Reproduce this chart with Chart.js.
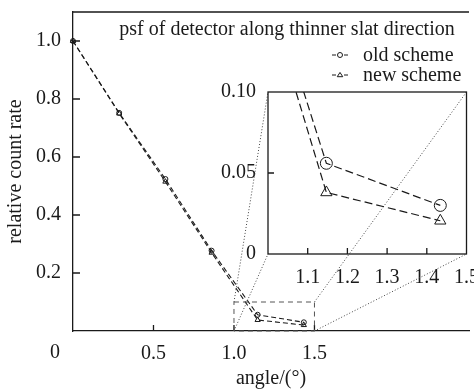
<!DOCTYPE html>
<html>
<head>
<meta charset="utf-8">
<script src="https://cdn.jsdelivr.net/npm/chart.js@4.4.1/dist/chart.umd.min.js"></script>
<style>
  html, body { margin: 0; padding: 0; background: #fff; }
  #wrap { position: relative; width: 474px; height: 391px; }
  #wrap canvas { position: absolute; left: 0; top: 0; }
</style>
</head>
<body>
<div id="wrap">
  <canvas id="mainChart" width="474" height="391"></canvas>
  <canvas id="insetChart" width="474" height="391"></canvas>
</div>
<script>
// data
const angles = [0, 0.287, 0.574, 0.861, 1.147, 1.434];
const oldScheme = [1.0, 0.752, 0.524, 0.277, 0.056, 0.030];
const newScheme = [1.0, 0.750, 0.515, 0.270, 0.038, 0.0205];

const xTicksMain = [0, 0.5, 1.0, 1.5];
const yTicksMain = [0.2, 0.4, 0.6, 0.8, 1.0];
const xTicksInset = [1.1, 1.2, 1.3, 1.4, 1.5];
const yTicksInset = [0, 0.05, 0.10];

// zoomed region shown in the inset
const zoomX = [1.0, 1.5];
const zoomY = [0, 0.1];

const titleText = 'psf of detector along thinner slat direction';
const legendLabels = ['old scheme', 'new scheme'];

const INK = '#1a1a1a';
const SERIF = "'Liberation Serif', 'DejaVu Serif', serif";
Chart.defaults.font.family = SERIF;
Chart.defaults.font.size = 20;
Chart.defaults.color = INK;

function toPoints(ys) {
    return angles.map((a, i) => ({ x: a, y: ys[i] }));
}

function drawMarker(ctx, style, x, y, r) {
    ctx.beginPath();
    if (style === 'circle') {
        ctx.arc(x, y, r, 0, Math.PI * 2);
    } else {
        const h = r * 1.7;
        ctx.moveTo(x, y - h * 0.6);
        ctx.lineTo(x + r * 1.1, y + h * 0.4);
        ctx.lineTo(x - r * 1.1, y + h * 0.4);
        ctx.closePath();
    }
    ctx.stroke();
}

function seriesSets(dash, rCircle, rTri, width) {
    return [{
        label: legendLabels[0],
        data: toPoints(oldScheme),
        showLine: true,
        borderColor: INK,
        borderWidth: width,
        borderDash: dash,
        pointStyle: 'circle',
        pointRadius: rCircle,
        pointBorderWidth: 1,
        pointBorderColor: INK,
        pointBackgroundColor: 'rgba(0,0,0,0)'
    }, {
        label: legendLabels[1],
        data: toPoints(newScheme),
        showLine: true,
        borderColor: INK,
        borderWidth: width,
        borderDash: dash,
        pointStyle: 'triangle',
        pointRadius: rTri,
        pointBorderWidth: 1,
        pointBorderColor: INK,
        pointBackgroundColor: 'rgba(0,0,0,0)'
    }];
}

// inward tick marks, top border, zoom box, title, legend
const mainDecor = {
    id: 'mainDecor',
    afterDraw(chart) {
        const ctx = chart.ctx;
        const area = chart.chartArea;
        const xs = chart.scales.x, ys = chart.scales.y;
        ctx.save();
        ctx.strokeStyle = INK;
        ctx.lineWidth = 1.3;
        ctx.beginPath();
        ctx.moveTo(area.left, area.top);
        ctx.lineTo(area.right, area.top);
        yTicksMain.forEach(v => {
            const py = ys.getPixelForValue(v);
            ctx.moveTo(area.left, py);
            ctx.lineTo(area.left + 7, py);
        });
        xTicksMain.slice(1).forEach(v => {
            const px = xs.getPixelForValue(v);
            ctx.moveTo(px, area.bottom);
            ctx.lineTo(px, area.bottom - 6);
        });
        ctx.stroke();

        // zoom box
        ctx.strokeStyle = '#555';
        ctx.lineWidth = 1;
        ctx.setLineDash([5, 4]);
        const bx0 = xs.getPixelForValue(zoomX[0]), bx1 = xs.getPixelForValue(zoomX[1]);
        const by0 = ys.getPixelForValue(zoomY[0]), by1 = ys.getPixelForValue(zoomY[1]);
        ctx.strokeRect(bx0, by1, bx1 - bx0, by0 - by1);
        ctx.setLineDash([]);

        // origin label sits left of the axis
        ctx.fillStyle = INK;
        ctx.font = '20px ' + SERIF;
        ctx.textAlign = 'center';
        ctx.textBaseline = 'alphabetic';
        ctx.fillText('0', xs.getPixelForValue(0) - 18, area.bottom + 27);

        // title inside the plot
        ctx.fillText(titleText, 287, 35);

        // legend
        ctx.textAlign = 'left';
        const rows = [{ y: 55, style: 'circle' }, { y: 75, style: 'triangle' }];
        rows.forEach((row, i) => {
            ctx.strokeStyle = INK;
            ctx.lineWidth = 1;
            ctx.beginPath();
            ctx.moveTo(332, row.y); ctx.lineTo(336, row.y);
            ctx.moveTo(344, row.y); ctx.lineTo(348, row.y);
            ctx.stroke();
            drawMarker(ctx, row.style, 340, row.y, 2.5);
            ctx.fillText(legendLabels[i], 363, row.y + 6);
        });
        ctx.restore();
    }
};

const mainChart = new Chart(document.getElementById('mainChart'), {
    type: 'scatter',
    data: { datasets: seriesSets([5, 3], 2.5, 3, 1.1) },
    options: {
        responsive: false,
        animation: false,
        clip: false,
        layout: { padding: { top: 12, left: 0, right: 0, bottom: 0 } },
        plugins: { legend: { display: false }, tooltip: { enabled: false } },
        scales: {
            x: {
                type: 'linear',
                min: 0,
                max: 2.46,
                grid: { display: false },
                border: { display: true, color: INK, width: 1.3 },
                afterBuildTicks: s => { s.ticks = xTicksMain.map(v => ({ value: v })); },
                afterFit: s => { s.height = 60; s.paddingLeft = 0; s.paddingRight = 0; },
                ticks: {
                    padding: 3,
                    maxRotation: 0,
                    callback: v => (v === 0 ? '' : v.toFixed(1))
                },
                title: { display: true, text: 'angle/(°)', padding: { top: 0, bottom: 0 } }
            },
            y: {
                type: 'linear',
                min: 0,
                max: 1.1,
                grid: { display: false },
                border: { display: true, color: INK, width: 1.3 },
                afterBuildTicks: s => { s.ticks = yTicksMain.map(v => ({ value: v })); },
                afterFit: s => { s.width = 73; s.paddingTop = 0; s.paddingBottom = 0; },
                ticks: { padding: 4, callback: v => v.toFixed(1) },
                title: { display: true, text: 'relative count rate', padding: { top: 4, bottom: 0 } }
            }
        }
    },
    plugins: [mainDecor]
});

// dotted connectors and the inset frame
const insetDecor = {
    id: 'insetDecor',
    beforeDatasetsDraw(chart) {
        const ctx = chart.ctx;
        const a = chart.chartArea;
        const xs = mainChart.scales.x, ys = mainChart.scales.y;
        const bx0 = xs.getPixelForValue(zoomX[0]), bx1 = xs.getPixelForValue(zoomX[1]);
        const by0 = ys.getPixelForValue(zoomY[0]), by1 = ys.getPixelForValue(zoomY[1]);
        ctx.save();
        ctx.strokeStyle = '#444';
        ctx.lineWidth = 1;
        ctx.setLineDash([1, 2]);
        ctx.beginPath();
        ctx.moveTo(bx0, by1); ctx.lineTo(a.left, a.top);
        ctx.moveTo(bx1, by1); ctx.lineTo(a.right, a.top);
        ctx.moveTo(bx0, by0); ctx.lineTo(a.left, a.bottom);
        ctx.moveTo(bx1, by0); ctx.lineTo(a.right, a.bottom);
        ctx.stroke();
        ctx.restore();
    },
    afterDraw(chart) {
        const ctx = chart.ctx;
        const a = chart.chartArea;
        const xs = chart.scales.x, ys = chart.scales.y;
        ctx.save();
        ctx.strokeStyle = INK;
        ctx.lineWidth = 1.3;
        ctx.strokeRect(a.left, a.top, a.right - a.left, a.bottom - a.top);
        ctx.beginPath();
        xTicksInset.slice(0, -1).forEach(v => {
            const px = xs.getPixelForValue(v);
            ctx.moveTo(px, a.bottom);
            ctx.lineTo(px, a.bottom - 6);
        });
        yTicksInset.slice(1, -1).forEach(v => {
            const py = ys.getPixelForValue(v);
            ctx.moveTo(a.left, py);
            ctx.lineTo(a.left + 6, py);
        });
        ctx.stroke();
        ctx.restore();
    }
};

const insetChart = new Chart(document.getElementById('insetChart'), {
    type: 'scatter',
    data: { datasets: seriesSets([8, 4], 6, 6.5, 1.2) },
    options: {
        responsive: false,
        animation: false,
        layout: { padding: { top: 92, left: 198, right: 6, bottom: 97 } },
        plugins: { legend: { display: false }, tooltip: { enabled: false } },
        scales: {
            x: {
                type: 'linear',
                min: zoomX[0],
                max: zoomX[1],
                grid: { display: false },
                border: { display: false },
                afterBuildTicks: s => { s.ticks = xTicksInset.map(v => ({ value: v })); },
                afterFit: s => { s.height = 40; s.paddingLeft = 0; s.paddingRight = 0; },
                ticks: { padding: 4, maxRotation: 0, callback: v => v.toFixed(1) }
            },
            y: {
                type: 'linear',
                min: zoomY[0],
                max: zoomY[1],
                grid: { display: false },
                border: { display: false },
                afterBuildTicks: s => { s.ticks = yTicksInset.map(v => ({ value: v })); },
                afterFit: s => { s.width = 70; s.paddingTop = 0; s.paddingBottom = 0; },
                ticks: { padding: 4, callback: v => (v === 0 ? '0' : v.toFixed(2)) }
            }
        }
    },
    plugins: [insetDecor]
});
</script>
</body>
</html>
